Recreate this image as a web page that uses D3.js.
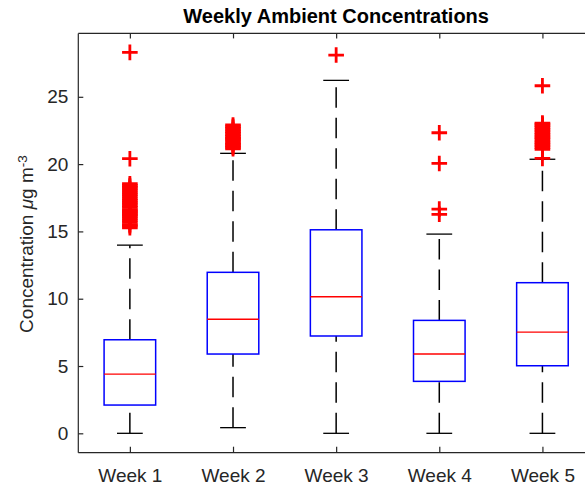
<!DOCTYPE html>
<html>
<head>
<meta charset="utf-8">
<script src="https://cdn.jsdelivr.net/npm/d3@7"></script>
<style>
  html, body { margin: 0; padding: 0; background: #fff; }
  svg { display: block; font-family: "Liberation Sans", Arial, Helvetica, sans-serif; }
</style>
</head>
<body>
<svg id="chart" width="585" height="486"></svg>
<script>
// ---- data ----
const categories = ["Week 1", "Week 2", "Week 3", "Week 4", "Week 5"];
const whiskerLow  = [0.0, 0.42, 0.0, 0.0, 0.0];
const q1          = [2.10, 5.89, 7.23, 3.86, 5.02];
const medians     = [4.40, 8.47, 10.15, 5.89, 7.52];
const q3          = [6.95, 11.96, 15.12, 8.39, 11.19];
const whiskerHigh = [13.98, 20.80, 26.22, 14.80, 20.36];
const outliersWeek1 = [28.30, 20.40, 15.27, 15.42, 15.51, 15.68, 15.83, 15.97, 16.12, 16.21, 16.33,
  16.41, 16.55, 16.62, 16.78, 16.90, 17.04, 17.15, 17.31, 17.42, 17.58, 17.73, 17.86, 18.02,
  18.17, 18.29, 18.41, 18.54];
const outliersWeek2 = [21.14, 21.25, 21.38, 21.46, 21.58, 21.70, 21.83, 21.92, 22.05, 22.17,
  22.30, 22.41, 22.55, 22.68, 22.79, 22.91];
const outliersWeek3 = [28.10];
const outliersWeek4 = [22.33, 20.05, 16.66, 16.27];
const outliersWeek5 = [25.82, 20.42, 21.10, 21.22, 21.35, 21.47, 21.60, 21.71, 21.85, 21.96,
  22.08, 22.21, 22.33, 22.47, 22.58, 22.72, 22.84, 22.96, 23.05];
const outliers = [outliersWeek1, outliersWeek2, outliersWeek3, outliersWeek4, outliersWeek5];
const yTicks = [0, 5, 10, 15, 20, 25];
const titleText = "Weekly Ambient Concentrations";

// ---- layout ----
const svg = d3.select("#chart");
const mLeft = 78.3, mRight = 594, mTop = 33.4, mBottom = 452.7;
const axisColor = "#262626";
const tickFont = "19px";

const x = d3.scaleLinear().domain([0.5, categories.length + 0.5]).range([mLeft, mRight]);
const y = d3.scaleLinear().domain([-1.44, 29.71]).range([mBottom, mTop]);
const unit = x(1) - x(0);
const boxW = 0.5 * unit, capW = 0.25 * unit;

// axes box
const g = svg.append("g").attr("stroke", axisColor).attr("stroke-width", 1.2);
g.append("line").attr("x1", mLeft).attr("x2", mRight).attr("y1", mTop).attr("y2", mTop);
g.append("line").attr("x1", mLeft).attr("x2", mRight).attr("y1", mBottom).attr("y2", mBottom);
g.append("line").attr("x1", mLeft).attr("x2", mLeft).attr("y1", mTop).attr("y2", mBottom);
g.append("line").attr("x1", mRight).attr("x2", mRight).attr("y1", mTop).attr("y2", mBottom);

// y axis (ticks inward)
const yAxis = d3.axisLeft(y).tickValues(yTicks).tickSize(-5).tickPadding(10).tickFormat(d3.format("d"));
const ya = svg.append("g").attr("transform", `translate(${mLeft},0)`).call(yAxis);
ya.select(".domain").remove();
ya.selectAll("line").attr("stroke", axisColor).attr("stroke-width", 1.2);
ya.selectAll("text").attr("fill", axisColor).style("font-size", tickFont)
  .attr("font-family", "Liberation Sans, Arial, sans-serif");

// x axis bottom (ticks inward)
const xAxis = d3.axisBottom(x).tickValues(d3.range(1, categories.length + 1))
  .tickSize(-6).tickPadding(16).tickFormat((d) => categories[d - 1]);
const xa = svg.append("g").attr("transform", `translate(0,${mBottom})`).call(xAxis);
xa.select(".domain").remove();
xa.selectAll("line").attr("stroke", axisColor).attr("stroke-width", 1.2);
xa.selectAll("text").attr("fill", axisColor).style("font-size", tickFont)
  .attr("font-family", "Liberation Sans, Arial, sans-serif");

// x ticks at top (inward)
const xTop = d3.axisTop(x).tickValues(d3.range(1, categories.length + 1)).tickSize(-5).tickFormat("");
const xt = svg.append("g").attr("transform", `translate(0,${mTop})`).call(xTop);
xt.select(".domain").remove();
xt.selectAll("line").attr("stroke", axisColor).attr("stroke-width", 1.2);

// boxes
const idx = d3.range(categories.length);
const boxes = svg.append("g");

// upper whiskers (q3 -> max), lower whiskers (min -> q1), dashed
boxes.selectAll(".wu").data(idx).enter().append("line")
  .attr("x1", (i) => x(i + 1)).attr("x2", (i) => x(i + 1))
  .attr("y1", (i) => y(q3[i])).attr("y2", (i) => y(whiskerHigh[i]))
  .attr("stroke", "#000").attr("stroke-width", 1.5).attr("stroke-dasharray", "20.5,10");
boxes.selectAll(".wl").data(idx).enter().append("line")
  .attr("x1", (i) => x(i + 1)).attr("x2", (i) => x(i + 1))
  .attr("y1", (i) => y(whiskerLow[i])).attr("y2", (i) => y(q1[i]))
  .attr("stroke", "#000").attr("stroke-width", 1.5).attr("stroke-dasharray", "20.5,10");

// caps
boxes.selectAll(".capU").data(idx).enter().append("line")
  .attr("x1", (i) => x(i + 1) - capW / 2).attr("x2", (i) => x(i + 1) + capW / 2)
  .attr("y1", (i) => y(whiskerHigh[i])).attr("y2", (i) => y(whiskerHigh[i]))
  .attr("stroke", "#000").attr("stroke-width", 1.3);
boxes.selectAll(".capL").data(idx).enter().append("line")
  .attr("x1", (i) => x(i + 1) - capW / 2).attr("x2", (i) => x(i + 1) + capW / 2)
  .attr("y1", (i) => y(whiskerLow[i])).attr("y2", (i) => y(whiskerLow[i]))
  .attr("stroke", "#000").attr("stroke-width", 1.3);

// box rectangles
boxes.selectAll(".box").data(idx).enter().append("rect")
  .attr("x", (i) => x(i + 1) - boxW / 2).attr("width", boxW)
  .attr("y", (i) => y(q3[i])).attr("height", (i) => y(q1[i]) - y(q3[i]))
  .attr("fill", "none").attr("stroke", "#0000ff").attr("stroke-width", 1.5);

// medians
boxes.selectAll(".med").data(idx).enter().append("line")
  .attr("x1", (i) => x(i + 1) - boxW / 2).attr("x2", (i) => x(i + 1) + boxW / 2)
  .attr("y1", (i) => y(medians[i])).attr("y2", (i) => y(medians[i]))
  .attr("stroke", "#ff0000").attr("stroke-width", 1.4);

// outliers as '+'
const pts = [];
outliers.forEach((arr, i) => arr.forEach((v) => pts.push({ i, v })));
const half = 7.8;
const marks = svg.append("g").attr("stroke", "#ff0000").attr("stroke-width", 2.8);
marks.selectAll("path").data(pts).enter().append("path")
  .attr("d", (d) => {
    const cx = x(d.i + 1), cy = y(d.v);
    return `M${cx - half},${cy}H${cx + half}M${cx},${cy - half}V${cy + half}`;
  })
  .attr("fill", "none");

// title
svg.append("text").attr("x", (mLeft + mRight) / 2).attr("y", 23)
  .attr("text-anchor", "middle").attr("font-weight", "bold").style("font-size", "20px")
  .attr("fill", "#000").text(titleText);

// y label
const yl = svg.append("text")
  .attr("transform", `translate(33,${(mTop + mBottom) / 2 + 1}) rotate(-90)`)
  .attr("text-anchor", "middle").style("font-size", tickFont).attr("fill", axisColor);
yl.append("tspan").text("Concentration ");
yl.append("tspan").attr("font-style", "italic").text("\u03bc");
yl.append("tspan").text("g m");
yl.append("tspan").attr("dy", "-0.45em").style("font-size", "13.5px").text("-3");
</script>
</body>
</html>
